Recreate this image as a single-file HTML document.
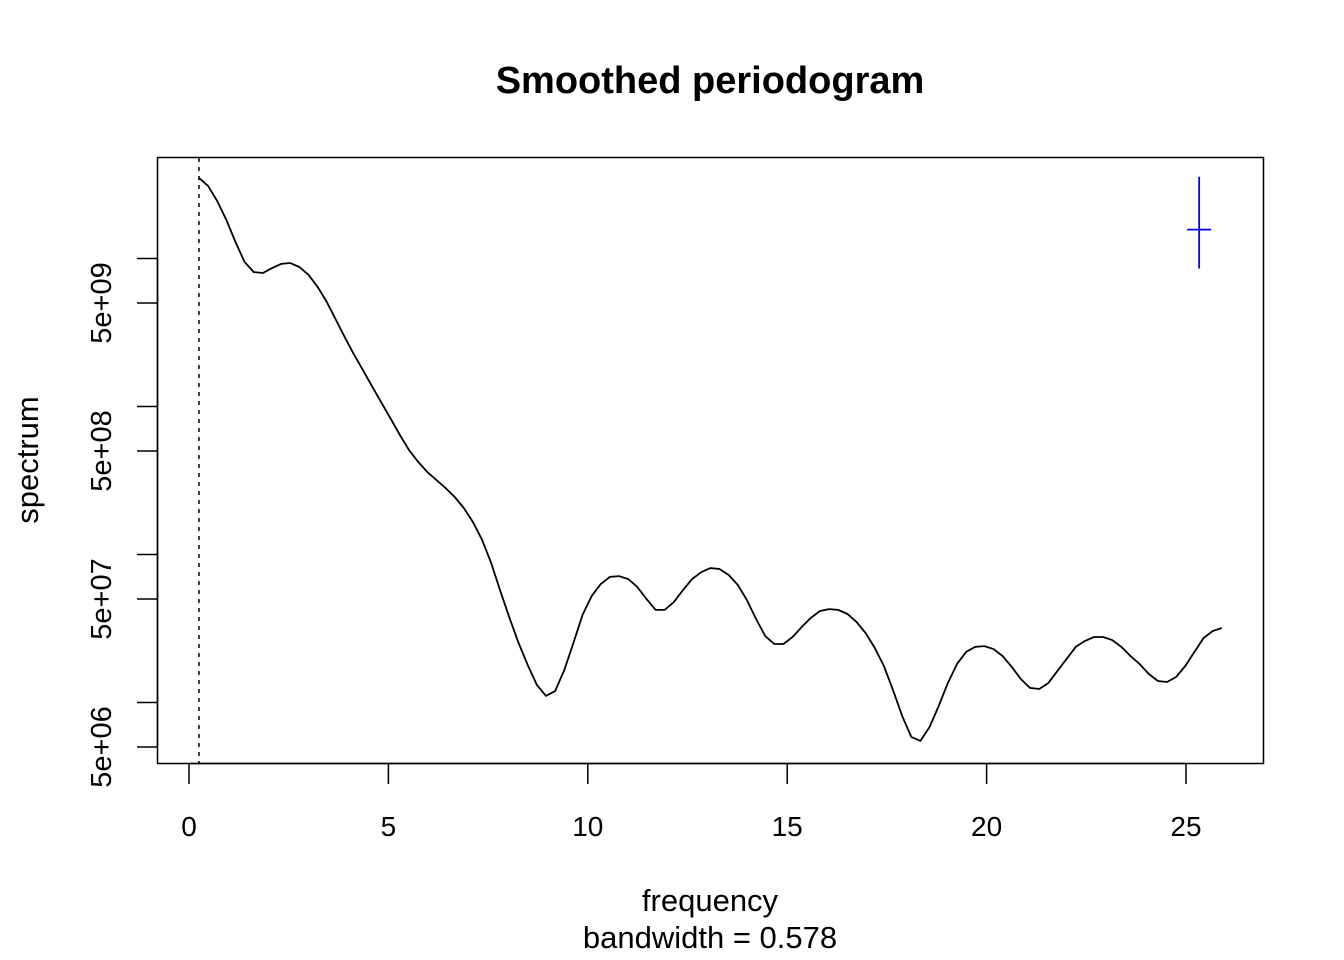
<!DOCTYPE html>
<html><head><meta charset="utf-8"><style>
html,body{margin:0;padding:0;background:#fff;}
svg{display:block;font-family:"Liberation Sans",Arial,sans-serif;}
</style></head><body>
<svg id="chart" width="1344" height="960" viewBox="0 0 1344 960" xmlns="http://www.w3.org/2000/svg">
<rect width="1344" height="960" fill="#fff"/>
<text x="710" y="93" text-anchor="middle" font-size="38" font-weight="bold">Smoothed periodogram</text>
<rect x="157.5" y="157.5" width="1106" height="606" fill="none" stroke="#000" stroke-width="1.5"/>
<g id="xaxis"></g>
<g id="yaxis"></g>
<text x="710" y="911" text-anchor="middle" font-size="31">frequency</text>
<text x="710" y="948" text-anchor="middle" font-size="31">bandwidth = 0.578</text>
<text transform="translate(38,460) rotate(-90)" text-anchor="middle" font-size="31">spectrum</text>
<g id="marks"></g>
</svg>
<script>
const xTicks = [0, 5, 10, 15, 20, 25];
const yTicksMajor = [5e6, 5e7, 5e8, 5e9];
const yTickLabels = ["5e+06", "5e+07", "5e+08", "5e+09"];
const yTicksMinor = [1e7, 1e8, 1e9, 1e10];
const freqStart = 0.25;
const freqStep = 0.229;
const log10Spectrum = [10.544,10.490,10.388,10.260,10.111,9.976,9.908,9.902,9.935,9.963,9.969,9.942,9.888,9.807,9.706,9.584,9.463,9.348,9.240,9.131,9.023,8.915,8.807,8.706,8.625,8.557,8.503,8.449,8.388,8.314,8.219,8.098,7.942,7.753,7.571,7.402,7.253,7.118,7.044,7.077,7.219,7.402,7.591,7.719,7.800,7.848,7.854,7.834,7.780,7.699,7.625,7.625,7.679,7.760,7.834,7.881,7.908,7.902,7.861,7.794,7.692,7.564,7.449,7.395,7.395,7.442,7.510,7.571,7.618,7.631,7.625,7.598,7.544,7.469,7.368,7.246,7.084,6.908,6.767,6.740,6.834,6.976,7.131,7.260,7.341,7.375,7.381,7.361,7.314,7.240,7.158,7.098,7.091,7.131,7.213,7.294,7.375,7.415,7.442,7.442,7.422,7.375,7.314,7.260,7.192,7.145,7.138,7.172,7.246,7.341,7.435,7.483,7.503];
const ciFreq = 25.33;
const ciCenterLog = 10.195;
const ciLowLog = 9.932;
const ciHighLog = 10.552;
const ciHalfWidth = 0.3;

const NS = "http://www.w3.org/2000/svg";
const xs = f => 189 + f * 39.88;
const ys = L => 747 - (L - Math.log10(5e6)) * 148;
function mk(tag, attrs, parent) {
  const e = document.createElementNS(NS, tag);
  for (const k in attrs) e.setAttribute(k, attrs[k]);
  parent.appendChild(e);
  return e;
}
const xa = document.getElementById('xaxis');
const ya = document.getElementById('yaxis');
const marks = document.getElementById('marks');
mk('line', {x1: xs(0), x2: xs(25), y1: 763.5, y2: 763.5, stroke: '#000', 'stroke-width': 1.5}, xa);
xTicks.forEach(t => {
  const l = mk('line', {x1: xs(t), x2: xs(t), y1: 763.5, y2: 784, stroke: '#000', 'stroke-width': 1.5}, xa);
  
  
  const tx = mk('text', {x: xs(t), y: 836, 'text-anchor': 'middle', 'font-size': 28}, xa);
  tx.textContent = t;
  
  
});
const allY = yTicksMajor.concat(yTicksMinor).map(v => Math.log10(v));
mk('line', {x1: 157.5, x2: 157.5, y1: ys(Math.log10(1e10)), y2: ys(Math.log10(5e6)), stroke: '#000', 'stroke-width': 1.5}, ya);
allY.forEach(L => {
  const l = mk('line', {x1: 137, x2: 157.5, y1: ys(L), y2: ys(L), stroke: '#000', 'stroke-width': 1.5}, ya);
  
  
});
yTicksMajor.forEach((v, i) => {
  const y = ys(Math.log10(v));
  const tx = mk('text', {transform: `translate(111,${y}) rotate(-90)`, 'text-anchor': 'middle', 'font-size': 29}, ya);
  tx.textContent = yTickLabels[i];
  
  
});
const dl = mk('line', {x1: xs(freqStart), x2: xs(freqStart), y1: 158, y2: 763, stroke: '#000', 'stroke-width': 1.5, 'stroke-dasharray': '4,5'}, marks);


const pts = log10Spectrum.map((L, i) => xs(freqStart + i * freqStep).toFixed(1) + ',' + ys(L).toFixed(1)).join(' ');
const pl = mk('polyline', {points: pts, fill: 'none', stroke: '#000', 'stroke-width': 1.8}, marks);


const cv = mk('line', {x1: xs(ciFreq), x2: xs(ciFreq), y1: ys(ciHighLog), y2: ys(ciLowLog), stroke: '#0000ff', 'stroke-width': 1.8}, marks);


const ch = mk('line', {x1: xs(ciFreq - ciHalfWidth), x2: xs(ciFreq + ciHalfWidth), y1: ys(ciCenterLog), y2: ys(ciCenterLog), stroke: '#0000ff', 'stroke-width': 1.8}, marks);


</script>
</body></html>
